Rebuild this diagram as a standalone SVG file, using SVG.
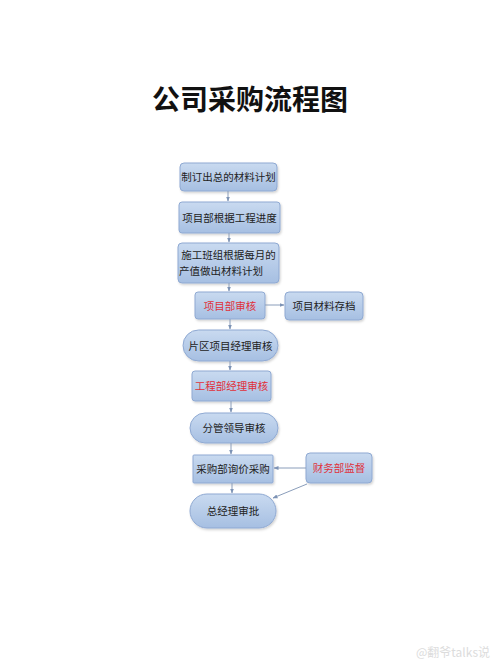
<svg xmlns="http://www.w3.org/2000/svg" width="500" height="666" viewBox="0 0 500 666">
<defs>
<linearGradient id="g" x1="0" y1="0" x2="0" y2="1">
<stop offset="0" stop-color="#c9daf0"/>
<stop offset="1" stop-color="#a6bfe2"/>
</linearGradient>
<marker id="ah" viewBox="0 0 10 10" refX="9" refY="5" markerWidth="5" markerHeight="5" orient="auto">
<path d="M0,1 L10,5 L0,9 z" fill="#7d93b5"/>
</marker>
<filter id="sh" x="-10%" y="-10%" width="130%" height="140%">
<feDropShadow dx="1" dy="1.5" stdDeviation="1" flood-color="#000" flood-opacity="0.18"/>
</filter>
</defs>
<style>
.n{fill:url(#g);stroke:#8fa9d2;stroke-width:1;filter:url(#sh)}
.t{font-family:"Noto Sans CJK SC","Noto Sans CJK JP",sans-serif;font-size:10.5px;fill:#222;text-anchor:middle}
.r{fill:#e0303a}
.c{stroke:#8a9dba;stroke-width:1;fill:none;marker-end:url(#ah)}
</style>
<rect width="500" height="666" fill="#ffffff"/>
<text x="250" y="110" font-family="'Noto Sans CJK SC',sans-serif" font-size="28" font-weight="bold" text-anchor="middle" fill="#111">公司采购流程图</text>
<g id="n1"><rect class="n" x="180" y="163" width="97" height="28" rx="4"/><text class="t" x="228.5" y="181">制订出总的材料计划</text></g>
<g id="n2"><rect class="n" x="179" y="202" width="101" height="31" rx="3"/><text class="t" x="229.5" y="221.5">项目部根据工程进度</text></g>
<g id="n3"><rect class="n" x="178" y="243" width="101" height="40" rx="4"/><text class="t" x="228.5" y="259">施工班组根据每月的</text><text class="t" x="221" y="275">产值做出材料计划</text></g>
<g id="n4"><rect class="n" x="195" y="292" width="70" height="27" rx="3"/><text class="t r" x="230" y="309.5">项目部审核</text></g>
<g id="n5"><rect class="n" x="285" y="292" width="78" height="28" rx="4"/><text class="t" x="324" y="310">项目材料存档</text></g>
<g id="n6"><rect class="n" x="183" y="330" width="95" height="31" rx="15.5"/><text class="t" x="230.5" y="349.5">片区项目经理审核</text></g>
<g id="n7"><rect class="n" x="192" y="371" width="79" height="30" rx="3"/><text class="t r" x="231.5" y="390">工程部经理审核</text></g>
<g id="n8"><rect class="n" x="190" y="413" width="88" height="30" rx="15"/><text class="t" x="234" y="432">分管领导审核</text></g>
<g id="n9"><rect class="n" x="193" y="455" width="80" height="28" rx="1"/><text class="t" x="233" y="472.5">采购部询价采购</text></g>
<g id="n10"><rect class="n" x="306" y="453" width="66" height="30" rx="4"/><text class="t r" x="339" y="472">财务部监督</text></g>
<g id="n11"><rect class="n" x="190" y="494" width="86" height="34" rx="17"/><text class="t" x="233" y="515">总经理审批</text></g>
<g id="connectors">
<line class="c" x1="228" y1="191" x2="228" y2="201"/>
<line class="c" x1="229" y1="233" x2="229" y2="242"/>
<line class="c" x1="229" y1="283" x2="229" y2="291"/>
<line class="c" x1="230" y1="319" x2="230" y2="329"/>
<line class="c" x1="265" y1="305" x2="284" y2="305"/>
<line class="c" x1="230" y1="361" x2="230" y2="370"/>
<line class="c" x1="231" y1="401" x2="231" y2="412"/>
<line class="c" x1="231" y1="443" x2="231" y2="454"/>
<line class="c" x1="232" y1="483" x2="232" y2="493"/>
<line class="c" x1="306" y1="468" x2="274" y2="468"/>
<line class="c" x1="307" y1="484" x2="273" y2="498"/>
</g>
<text x="490" y="657" font-family="'Noto Sans CJK SC',sans-serif" font-size="12" text-anchor="end" fill="#dcdcdc">@翻爷talks说</text>
</svg>
